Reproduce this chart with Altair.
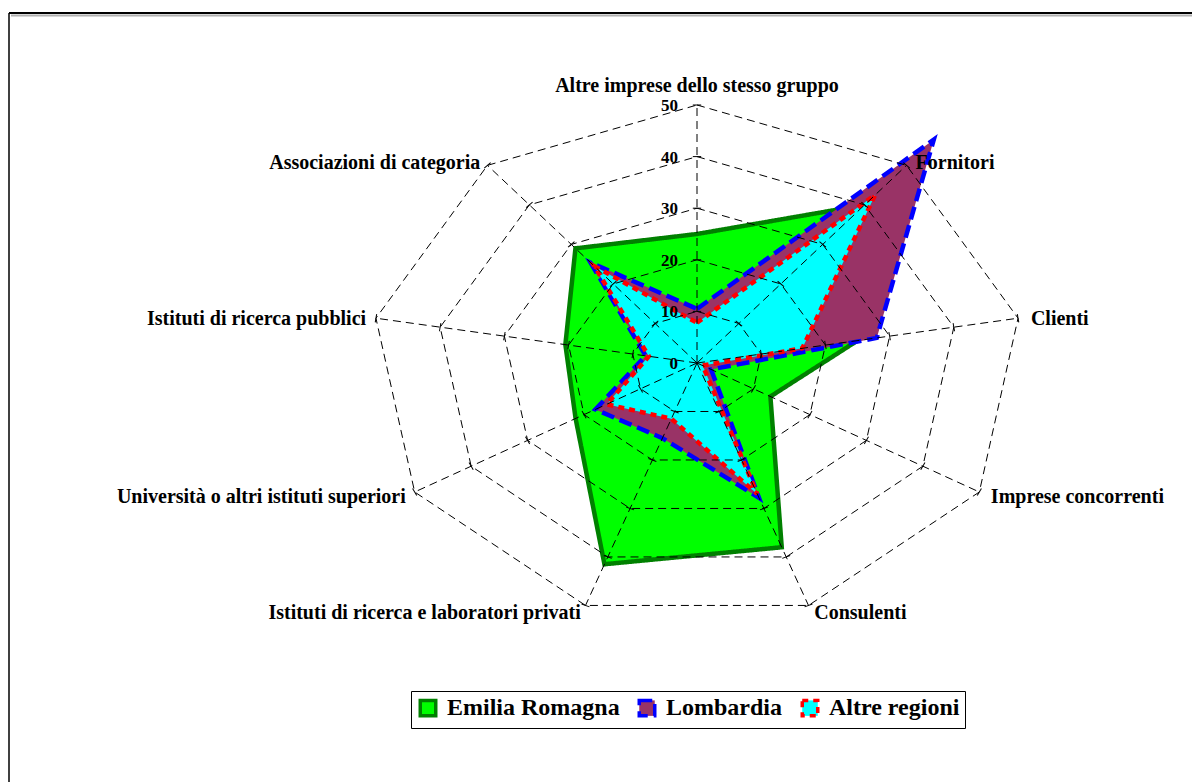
import altair as alt
import pandas as pd

# ---------------- data ----------------
categories = [
    "Altre imprese dello stesso gruppo",
    "Fornitori",
    "Clienti",
    "Imprese concorrenti",
    "Consulenti",
    "Istituti di ricerca e laboratori privati",
    "Università o altri istituti superiori",
    "Istituti di ricerca pubblici",
    "Associazioni di categoria",
]
series_names = ["Emilia Romagna", "Lombardia", "Altre regioni"]
emilia = [25, 40, 25, 13, 38, 41.5, 21.5, 20.5, 29]
lombardia = [10.5, 56.5, 28, 2.5, 27.8, 15.5, 18, 8, 25.4]
altre = [7.8, 42.5, 16.4, 1, 27, 11.5, 16, 7.5, 24.5]
ring_values = [10, 20, 30, 40, 50]
tick_values = [0, 10, 20, 30, 40, 50]

# ---------------- style / layout ----------------
W, H = 1192, 782
CX, CY = 697, 363          # pixel centre of the radar
RX, RY = 326, 258          # pixel radius of value 50 (horizontal / vertical)
MAXV = 50
fills = ["#00FF00", "#993366", "#00FFFF"]
strokes = ["#008000", "#0000FF", "#FF0000"]
dashes = [[1, 0], [13, 6], [6, 5]]
FONT = "Liberation Serif"
UX = RX / MAXV   # pixels per unit, horizontal
UY = RY / MAXV   # pixels per unit, vertical

xscale = alt.Scale(domain=[-CX / UX, (W - CX) / UX], nice=False, zero=False)
yscale = alt.Scale(domain=[-(H - CY) / UY, CY / UY], nice=False, zero=False)

n = len(categories)
step = 360 / n

rows = []
for s, vals in zip(series_names, [emilia, lombardia, altre]):
    for i, v in enumerate(vals):
        rows.append({"series": s, "cat": categories[i], "ord": i, "angle": i * step, "value": v})
poly_df = pd.DataFrame(rows)

ring_rows = []
for r in ring_values:
    for i in range(n):
        ring_rows.append({"ring": r, "ord": i, "angle": i * step, "value": r})
ring_df = pd.DataFrame(ring_rows)

spoke_df = pd.DataFrame({"angle": [i * step for i in range(n)], "value": [MAXV] * n})
label_df = pd.DataFrame({"cat": categories, "angle": [i * step for i in range(n)], "value": [MAXV] * n})
tickv_df = pd.DataFrame({"value": tick_values, "label": [str(v) for v in tick_values]})

XY = dict(
    px="datum.value*sin(datum.angle*PI/180)",
    py="datum.value*cos(datum.angle*PI/180)",
)

legend = alt.Legend(
    title=None,
    orient="none",
    legendX=411,
    legendY=691,
    direction="horizontal",
    symbolType="square",
    symbolSize=240,
    symbolStrokeWidth=3.5,
    labelFont=FONT,
    labelFontWeight="bold",
    labelFontSize=24,
    labelColor="black",
    labelOffset=7,
    columnPadding=12,
    strokeColor="black",
    fillColor="white",
    padding=5,
    labelLimit=400,
)

layers = []
for k, s in enumerate(series_names):
    layers.append(
        alt.Chart(poly_df)
        .transform_filter(alt.datum.series == s)
        .transform_calculate(**XY)
        .mark_line(interpolate="linear-closed", strokeWidth=4.5, strokeOpacity=1, fillOpacity=1)
        .encode(
            x=alt.X("px:Q", scale=xscale, axis=None),
            y=alt.Y("py:Q", scale=yscale, axis=None),
            order=alt.Order("ord:Q"),
            fill=alt.Fill("series:N", scale=alt.Scale(domain=series_names, range=fills), legend=legend),
            stroke=alt.Stroke("series:N", scale=alt.Scale(domain=series_names, range=strokes), legend=legend),
            strokeDash=alt.StrokeDash("series:N", scale=alt.Scale(domain=series_names, range=dashes), legend=legend),
        )
    )

rings = (
    alt.Chart(ring_df)
    .transform_calculate(**XY)
    .mark_line(interpolate="linear-closed", stroke="black", strokeWidth=1, strokeDash=[8, 5])
    .encode(
        x=alt.X("px:Q", scale=xscale, axis=None),
        y=alt.Y("py:Q", scale=yscale, axis=None),
        detail="ring:N",
        order="ord:Q",
    )
)

spokes = (
    alt.Chart(spoke_df)
    .transform_calculate(x0="0", y0="0", **XY)
    .mark_rule(stroke="black", strokeWidth=1, strokeDash=[8, 5])
    .encode(
        x=alt.X("x0:Q", scale=xscale, axis=None),
        y=alt.Y("y0:Q", scale=yscale, axis=None),
        x2="px:Q",
        y2="py:Q",
    )
)

ticks = (
    alt.Chart(ring_df)
    .transform_calculate(**XY)
    .mark_point(shape="M-1,0L1,0", filled=False, stroke="black", strokeWidth=1, size=70, opacity=1)
    .encode(
        x=alt.X("px:Q", scale=xscale, axis=None),
        y=alt.Y("py:Q", scale=yscale, axis=None),
        angle=alt.Angle("angle:Q", scale=None),
    )
)

value_labels = (
    alt.Chart(tickv_df)
    .transform_calculate(x0="0")
    .mark_text(align="right", baseline="middle", dx=-19, dy=1, font=FONT, fontWeight="bold", fontSize=17, color="black")
    .encode(
        x=alt.X("x0:Q", scale=xscale, axis=None),
        y=alt.Y("value:Q", scale=yscale, axis=None),
        text="label:N",
    )
)

# category labels placed just outside the outer ring, pushed outward in pixel terms
cat_base = alt.Chart(label_df).transform_calculate(
    s="sin(datum.angle*PI/180)",
    c="cos(datum.angle*PI/180)",
).transform_calculate(
    px=f"datum.value*datum.s + (datum.s > 0.1 ? (2 + 11*datum.s) : (datum.s < -0.1 ? -(2 + 8*abs(datum.s)) : 0)) / {UX}",
    py=f"datum.value*datum.c - (2 - 6*datum.c) / {UY}",
)
cat_enc = dict(
    x=alt.X("px:Q", scale=xscale, axis=None),
    y=alt.Y("py:Q", scale=yscale, axis=None),
    text="cat:N",
)
txt = dict(baseline="middle", font=FONT, fontWeight="bold", fontSize=20, color="black")
cat_top = cat_base.transform_filter("abs(datum.s) < 0.1").mark_text(
    align="center", dy=-15, **txt).encode(**cat_enc)
cat_right = cat_base.transform_filter("datum.s >= 0.1").mark_text(
    align="left", **txt).encode(**cat_enc)
cat_left = cat_base.transform_filter("datum.s <= -0.1").mark_text(
    align="right", **txt).encode(**cat_enc)

one = pd.DataFrame({"a": [0]})
frame_top_shadow = alt.Chart(one).mark_rule(color="#b0b0b0", strokeWidth=2).encode(
    x=alt.value(11), x2=alt.value(W), y=alt.value(15.5))
frame_top = alt.Chart(one).mark_rule(color="black", strokeWidth=2).encode(
    x=alt.value(9), x2=alt.value(W), y=alt.value(13))
frame_left = alt.Chart(one).mark_rule(color="black", strokeWidth=1.5).encode(
    x=alt.value(9), y=alt.value(13), y2=alt.value(H))

chart = (
    alt.layer(
        *layers, rings, spokes, ticks, value_labels, cat_top, cat_right, cat_left,
        frame_top_shadow, frame_top, frame_left,
    )
    .properties(width=W, height=H, padding=0, autosize=alt.AutoSizeParams(type="none"), background="white")
    .configure_view(stroke=None)
)

chart.save("out.html", embed_options={"renderer": "svg", "actions": False})
